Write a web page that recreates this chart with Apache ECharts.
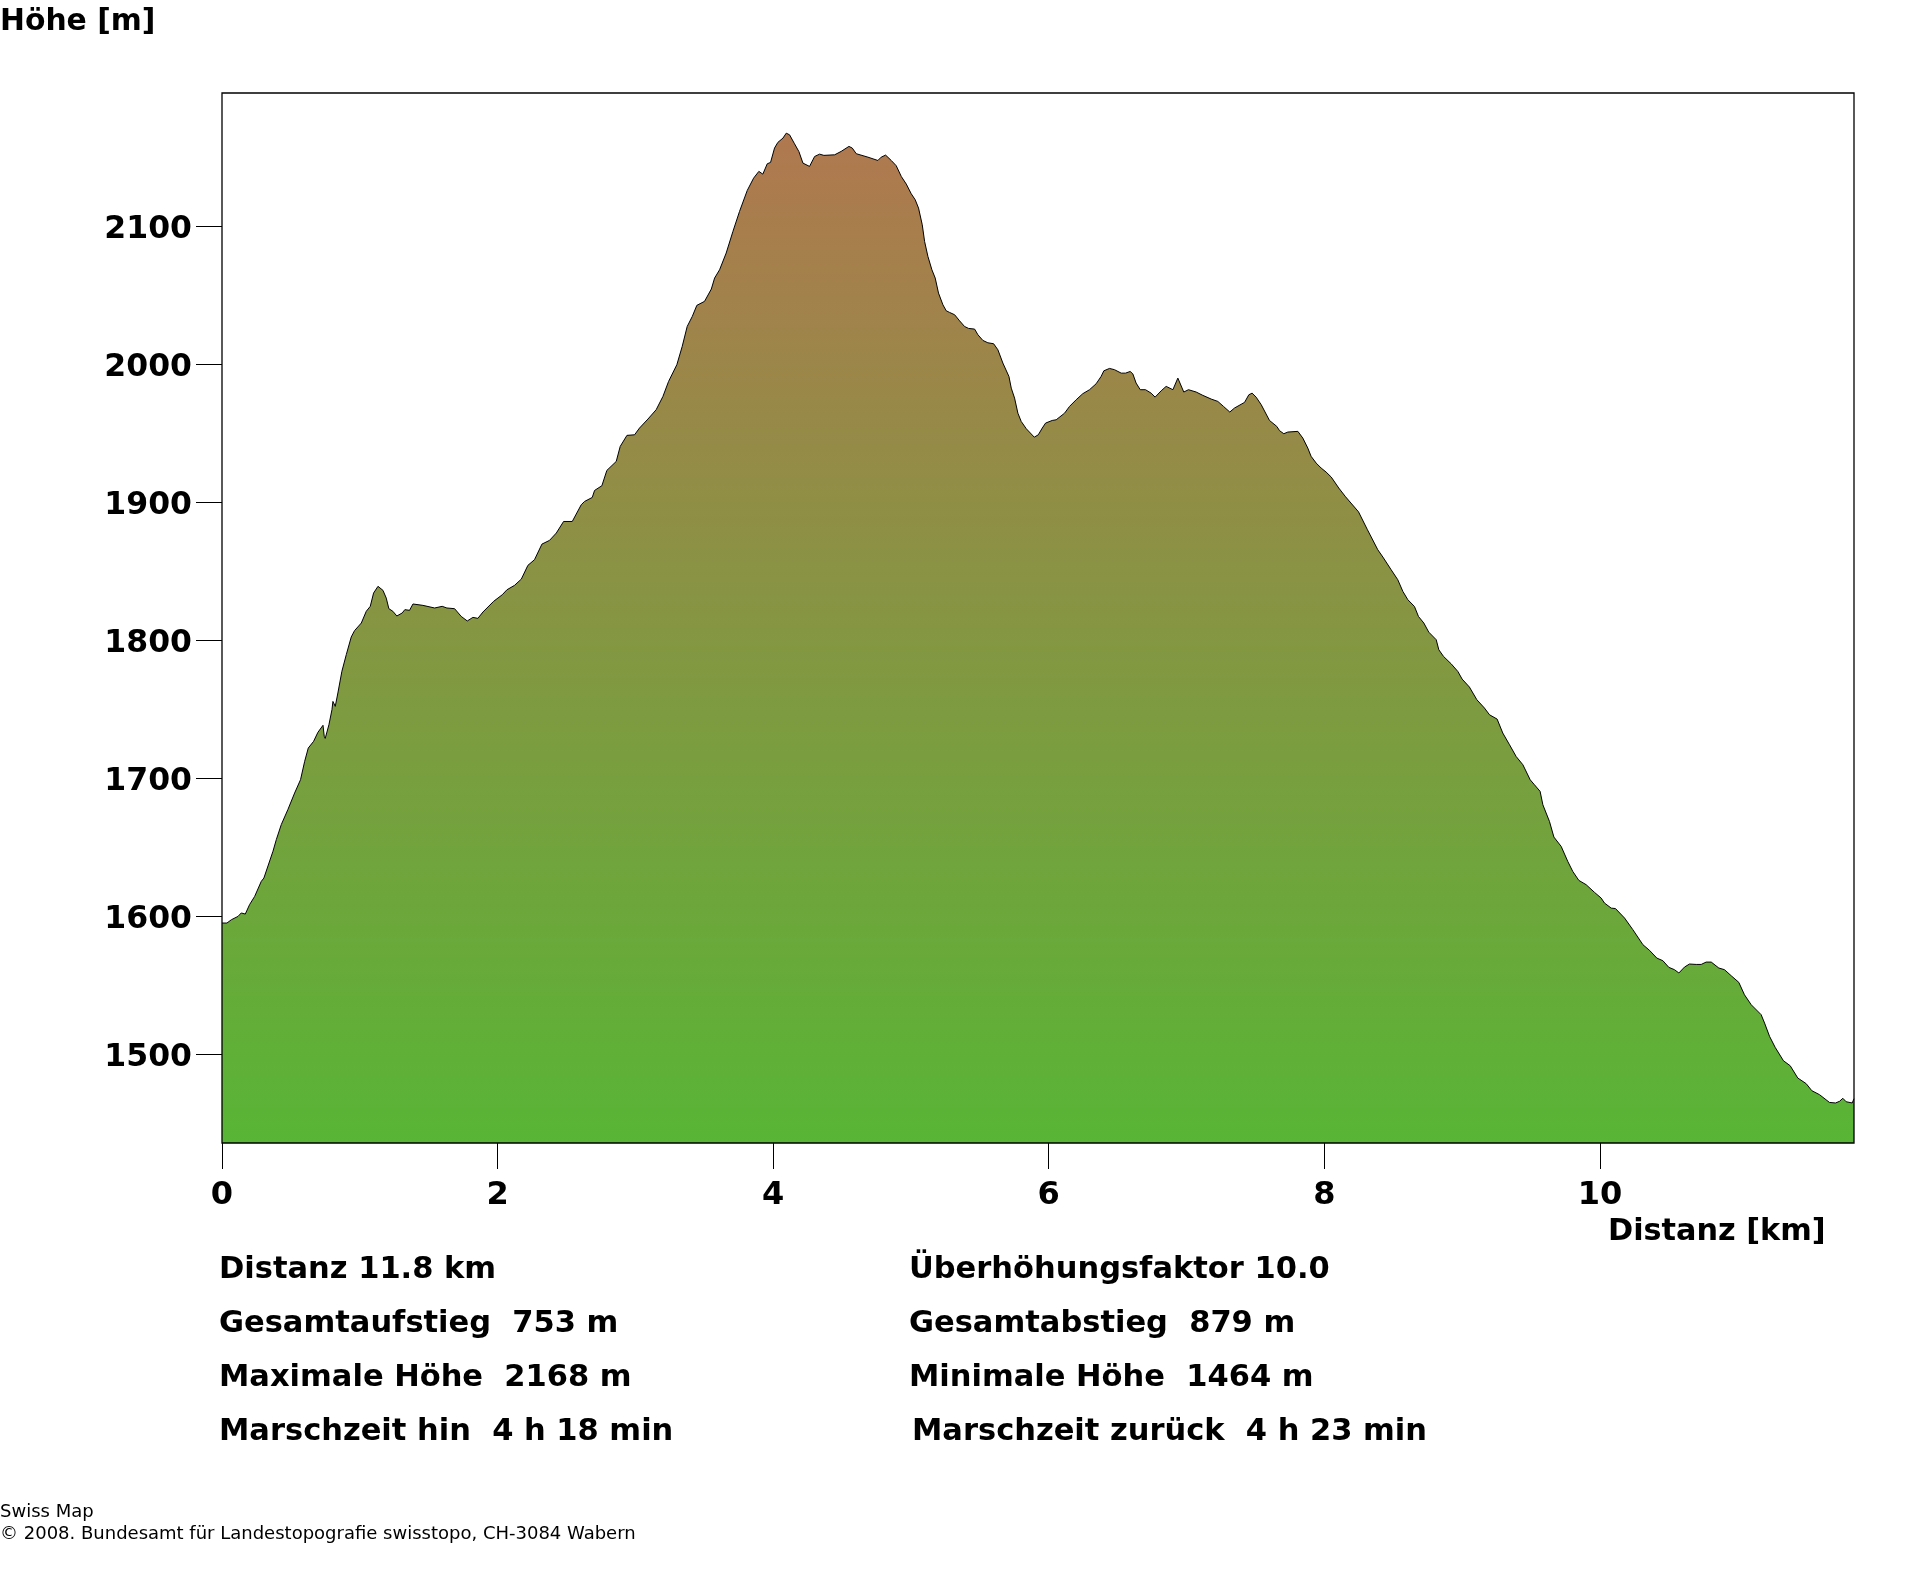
<!DOCTYPE html>
<html>
<head>
<meta charset="utf-8">
<title>Höhenprofil</title>
<script src="https://cdn.jsdelivr.net/npm/echarts@6/dist/echarts.min.js"></script>
<style>
  html, body { margin: 0; padding: 0; background: #fff; }
  #chart { width: 1920px; height: 1572px; }
</style>
</head>
<body>
<div id="chart"></div>
<script>
// distance along the route in km
var distanceKm = [
  0, 0.036, 0.068, 0.116, 0.140, 0.169, 0.200, 0.237, 0.285, 0.304, 0.370, 0.394, 0.430, 0.478, 0.527, 0.570,
  0.600, 0.626, 0.665, 0.696, 0.733, 0.742, 0.749, 0.776, 0.798, 0.805, 0.822, 0.841, 0.870, 0.902, 0.938, 0.962,
  1.011, 1.047, 1.076, 1.100, 1.132, 1.168, 1.192, 1.211, 1.240, 1.269, 1.308, 1.327, 1.361, 1.386, 1.458, 1.543,
  1.598, 1.632, 1.688, 1.736, 1.780, 1.821, 1.857, 1.894, 1.971, 2.034, 2.068, 2.123, 2.172, 2.220, 2.268, 2.322,
  2.377, 2.426, 2.479, 2.542, 2.607, 2.631, 2.687, 2.704, 2.757, 2.793, 2.861, 2.890, 2.939, 2.994, 3.030, 3.091,
  3.151, 3.200, 3.241, 3.301, 3.340, 3.376, 3.413, 3.446, 3.502, 3.551, 3.575, 3.611, 3.659, 3.708, 3.756, 3.812,
  3.858, 3.896, 3.925, 3.957, 3.981, 4.010, 4.034, 4.071, 4.095, 4.119, 4.155, 4.187, 4.216, 4.264, 4.301, 4.337,
  4.368, 4.446, 4.494, 4.550, 4.574, 4.603, 4.688, 4.760, 4.784, 4.816, 4.857, 4.893, 4.930, 4.966, 5.002, 5.031,
  5.055, 5.082, 5.099, 5.123, 5.152, 5.176, 5.200, 5.232, 5.256, 5.280, 5.317, 5.353, 5.389, 5.418, 5.462, 5.486,
  5.522, 5.558, 5.600, 5.631, 5.667, 5.711, 5.728, 5.752, 5.776, 5.800, 5.837, 5.895, 5.924, 5.953, 5.977, 6.025,
  6.054, 6.115, 6.151, 6.199, 6.247, 6.296, 6.344, 6.380, 6.400, 6.441, 6.477, 6.526, 6.557, 6.591, 6.610, 6.634,
  6.664, 6.702, 6.743, 6.772, 6.816, 6.852, 6.901, 6.937, 6.980, 7.014, 7.070, 7.118, 7.179, 7.227, 7.268, 7.314,
  7.348, 7.421, 7.452, 7.476, 7.505, 7.542, 7.602, 7.655, 7.675, 7.706, 7.735, 7.808, 7.844, 7.880, 7.904, 7.941,
  7.977, 8.013, 8.050, 8.105, 8.154, 8.248, 8.313, 8.388, 8.425, 8.485, 8.533, 8.570, 8.606, 8.654, 8.683, 8.722,
  8.758, 8.812, 8.831, 8.865, 8.920, 8.969, 9.000, 9.053, 9.107, 9.162, 9.199, 9.254, 9.295, 9.344, 9.392, 9.441,
  9.494, 9.525, 9.566, 9.586, 9.634, 9.666, 9.719, 9.767, 9.803, 9.847, 9.900, 9.961, 10.009, 10.033, 10.082, 10.113,
  10.179, 10.239, 10.312, 10.360, 10.413, 10.457, 10.500, 10.541, 10.573, 10.614, 10.650, 10.699, 10.735, 10.771, 10.808, 10.863,
  10.904, 10.953, 11.008, 11.049, 11.098, 11.170, 11.195, 11.231, 11.272, 11.332, 11.381, 11.436, 11.497, 11.538, 11.594, 11.666,
  11.710, 11.739, 11.763, 11.787, 11.831, 11.844
];
// height above sea level in m, same length as distanceKm
var heightM = [
  1595, 1595, 1597.4, 1599.8, 1602.3, 1601.5, 1608.3, 1614.3, 1625.2, 1627.6, 1647, 1655.4, 1666.3, 1677.2, 1689.2, 1698.9,
  1712.2, 1721.8, 1726.7, 1733.2, 1738.3, 1730.3, 1728.8, 1738.7, 1749.6, 1755.6, 1752, 1761.7, 1777.4, 1789.5, 1802.3, 1806.9,
  1812.4, 1820.9, 1824.5, 1834.1, 1839, 1836.1, 1830.5, 1822.8, 1820.9, 1817.5, 1819.7, 1822.1, 1821.6, 1826.2, 1825.2, 1823.3,
  1824.5, 1823.3, 1822.8, 1817.2, 1813.9, 1816.5, 1815.8, 1820.4, 1828.1, 1832.9, 1836.5, 1839.7, 1844.2, 1854.2, 1858.3, 1869.6,
  1872.3, 1877.6, 1886, 1886, 1898.1, 1900.5, 1903.4, 1908.5, 1911.9, 1923, 1929.5, 1940.4, 1948.4, 1948.8, 1953.7, 1960.2,
  1967, 1976.6, 1987.5, 1999.6, 2012.9, 2027.3, 2034.6, 2042.6, 2045.5, 2054.4, 2062.4, 2068.4, 2080.5, 2096.2, 2110.7, 2125.9,
  2134.8, 2139.7, 2137.7, 2145.2, 2146.2, 2156.6, 2160.7, 2163.8, 2167.4, 2166.2, 2159.7, 2154, 2145.7, 2143.3, 2150.5, 2152.2,
  2151.3, 2151.7, 2154.2, 2157.8, 2156.6, 2152.5, 2150, 2147.6, 2150, 2151.5, 2147.6, 2143.8, 2136, 2130.5, 2123.5, 2119.1,
  2113.1, 2101, 2088.9, 2078.1, 2068.4, 2062.4, 2051.5, 2043, 2038.7, 2037.5, 2035.8, 2031.4, 2027.3, 2025.9, 2025.4, 2021.3,
  2017.2, 2015.5, 2014.8, 2010.4, 2000.8, 1991.1, 1982.6, 1975.4, 1964.5, 1958.5, 1953.2, 1947.1, 1948.8, 1953.7, 1957.3, 1959.2,
  1959.7, 1964.5, 1969.4, 1974.2, 1978.6, 1981.5, 1985.8, 1991.1, 1995.2, 1996.9, 1996, 1993.5, 1993.5, 1994.7, 1993, 1986.3,
  1981.5, 1981.5, 1979, 1976.1, 1980.7, 1983.9, 1981.5, 1989.9, 1979.8, 1981.5, 1979.8, 1977.4, 1974.7, 1973, 1969.4, 1965.3,
  1968.2, 1972.3, 1977.8, 1979, 1976.1, 1970.6, 1959.2, 1954.9, 1951.8, 1949.6, 1950.8, 1951.3, 1946.4, 1939.2, 1933.2, 1928.3,
  1924.7, 1921.8, 1918.2, 1910.2, 1903.9, 1893, 1880, 1865.5, 1860.2, 1851, 1843.8, 1835.3, 1829.3, 1824.4, 1817.2, 1812.4,
  1805.8, 1800.3, 1793, 1788.2, 1782.9, 1777.3, 1771.8, 1766, 1756.8, 1750.8, 1745.9, 1742.8, 1732.7, 1724.2, 1715.7, 1709.7,
  1698.8, 1695.2, 1690.4, 1680.7, 1668.6, 1657.3, 1650.5, 1639.6, 1632.4, 1625.9, 1622.8, 1617.2, 1613.1, 1609.5, 1605.8, 1605.5,
  1598.6, 1590.2, 1579.3, 1575.2, 1569.6, 1567.7, 1562.9, 1561.2, 1558.8, 1563.1, 1565.3, 1565, 1565, 1566.7, 1566.7, 1562.4,
  1561.2, 1556.8, 1552, 1543, 1535.8, 1528.6, 1522.5, 1512.9, 1504.9, 1495.2, 1491.6, 1482.7, 1478.6, 1473.5, 1470.6, 1465,
  1464.6, 1465.8, 1468, 1465.5, 1464.6, 1467.7
];
var xTicks = [0, 2, 4, 6, 8, 10];
var yTicks = [1500, 1600, 1700, 1800, 1900, 2000, 2100];
var statsLeft = ['Distanz 11.8 km', 'Gesamtaufstieg  753 m', 'Maximale Höhe  2168 m', 'Marschzeit hin  4 h 18 min'];
var statsRight = ['Überhöhungsfaktor 10.0', 'Gesamtabstieg  879 m', 'Minimale Höhe  1464 m', 'Marschzeit zurück  4 h 23 min'];
var statsRows = [1270.5, 1324.5, 1378.5, 1432.5];
var creditLines = ['Swiss Map', '© 2008. Bundesamt für Landestopografie swisstopo, CH-3084 Wabern'];

var FONT = '"DejaVu Sans", sans-serif';

function boldText(x, y, text, size) {
  return {
    type: 'text', x: x, y: y,
    style: { text: text, fontFamily: FONT, fontWeight: 'bold', fontSize: size || 30.5, fill: '#000', textVerticalAlign: 'middle' }
  };
}

var points = distanceKm.map(function (km, i) { return [km, heightM[i]]; });

var texts = [boldText(0, 22.5, 'Höhe [m]', 29.8), boldText(1608, 1232.5, 'Distanz [km]', 30.3)];
statsRows.forEach(function (y, i) {
  texts.push(boldText(219, y, statsLeft[i]));
  texts.push(boldText(i === 3 ? 912 : 909, y, statsRight[i]));
});
creditLines.forEach(function (line, i) {
  texts.push({
    type: 'text', x: 0, y: 1512 + i * 22.5,
    style: { text: line, fontFamily: FONT, fontSize: 18, fill: '#000', textVerticalAlign: 'middle' }
  });
});

var chart = echarts.init(document.getElementById('chart'), null, { renderer: 'canvas' });
chart.setOption({
  animation: false,
  backgroundColor: '#fff',
  grid: {
    show: true, z: 5, left: 222, top: 93, width: 1632, height: 1050,
    backgroundColor: 'transparent', borderColor: '#000', borderWidth: 1.3
  },
  xAxis: {
    type: 'value', min: 0, max: 11.844,
    splitLine: { show: false },
    axisLine: { show: false },
    axisTick: { customValues: xTicks, length: 26, lineStyle: { color: '#000', width: 1 } },
    axisLabel: {
      customValues: xTicks,
      formatter: function (value) { return String(value); },
      margin: 37, color: '#000', fontFamily: FONT, fontWeight: 'bold', fontSize: 32
    }
  },
  yAxis: {
    type: 'value', min: 1435.6, max: 2196.5,
    splitLine: { show: false },
    axisLine: { show: false },
    axisTick: { customValues: yTicks, length: 26, lineStyle: { color: '#000', width: 1 } },
    axisLabel: {
      customValues: yTicks,
      // rich text so the digits can sit a little lower, level with the tick
      formatter: function (value) { return '{v|' + value + '}'; },
      margin: 30,
      rich: {
        v: { padding: [7, 0, 0, 0], color: '#000', fontFamily: FONT, fontWeight: 'bold', fontSize: 31.5 }
      }
    }
  },
  series: [{
    type: 'line',
    data: points,
    symbol: 'none',
    smooth: false,
    silent: true,
    lineStyle: { color: '#000', width: 1 },
    areaStyle: {
      opacity: 1,
      color: new echarts.graphic.LinearGradient(0, 0, 0, 1, [
        { offset: 0, color: '#b0784f' },
        { offset: 1, color: '#58b535' }
      ])
    }
  }],
  graphic: texts
});
</script>
</body>
</html>
